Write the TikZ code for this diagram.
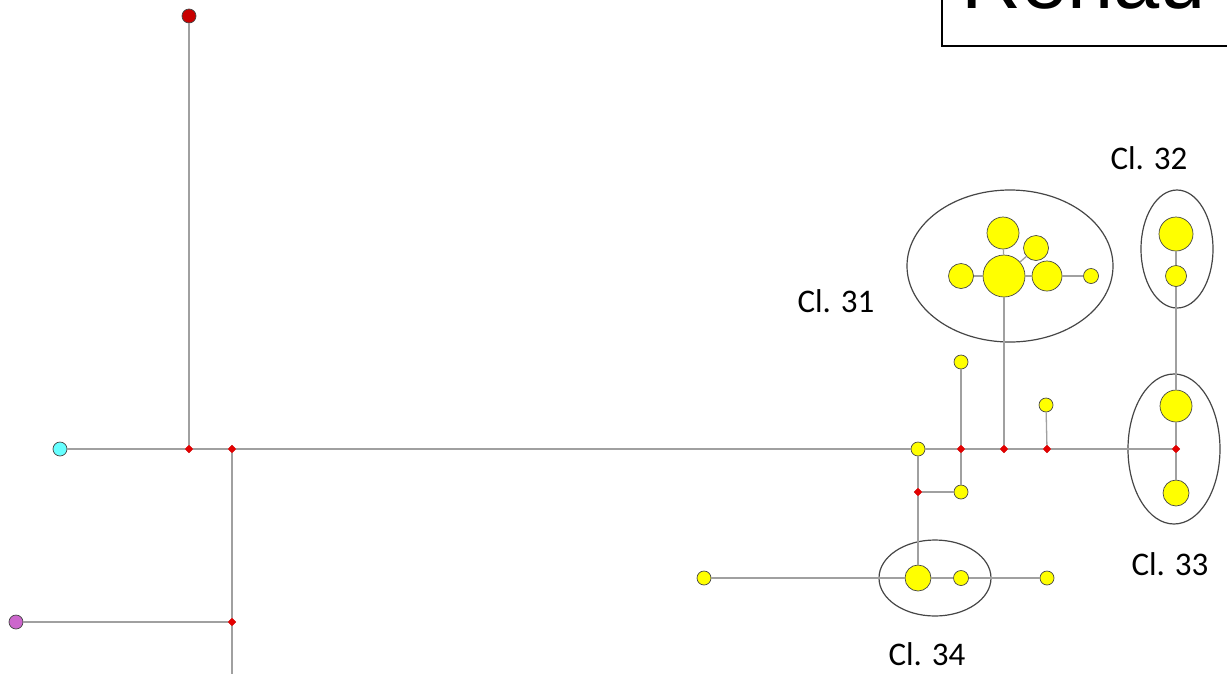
\documentclass[tikz,border=0pt]{standalone}
\usepackage{fontspec}
\setmainfont{Carlito}
\newfontfamily\titlefont{Liberation Sans}
\usepackage{tikz}
\usetikzlibrary{shapes.geometric}
\definecolor{hapyellow}{RGB}{255, 255, 0}
\definecolor{hapcyan}{RGB}{102, 255, 255}
\definecolor{happurple}{RGB}{204, 102, 204}
\definecolor{hapdarkred}{RGB}{200, 0, 0}
\definecolor{medred}{RGB}{230, 0, 0}
\definecolor{linkgray}{RGB}{160, 160, 160}
\definecolor{rimgray}{RGB}{70, 70, 70}

\tikzset{
  hap/.style={circle, draw=rimgray, line width=0.7pt, inner sep=0pt, fill=hapyellow, minimum size=#1},
  hap/.default=14pt,
  medvec/.style={diamond, draw=hapdarkred, line width=0.4pt, fill=medred, inner sep=0pt, minimum size=8pt},
  link/.style={draw=linkgray, line width=1.3pt},
  cluster/.style={draw=rimgray, line width=1.2pt},
  clabel/.style={font=\fontsize{33}{38}\selectfont, inner sep=0pt}
}

\begin{document}
\begin{tikzpicture}[x=1pt,y=-1pt]
\useasboundingbox (0,0) rectangle (1227,673);
% title box, cut at the top
\draw[line width=2pt] (942,-30) rectangle (1240,46);
\node[font=\titlefont\fontsize{83}{90}\selectfont, anchor=base west, inner sep=0pt] (title) at (961,8) {Renau};
% cluster outlines
\draw[cluster] (1010,266) ellipse [x radius=103pt, y radius=76pt];
\draw[cluster] (1177,249) ellipse [x radius=36pt, y radius=59pt];
\draw[cluster] (1174,449) ellipse [x radius=46pt, y radius=75pt];
\draw[cluster] (935,578) ellipse [x radius=56pt, y radius=38pt];
% median vectors
\foreach \name/\x/\y in {m1/189/449, m2/232/449, m3/961/449, m4/1004/449, m5/1047/449, m6/1176/449, m7/232/622, m8/918/492} {
    \node[medvec] (\name) at (\x,\y) {};
}
\coordinate (m7end) at (232,680);
% outgroup haplotypes
\node[hap, fill=hapdarkred] (hred) at (189,16) {};
\node[hap, fill=hapcyan] (hcyan) at (60,449) {};
\node[hap, fill=happurple] (hpurple) at (16,622) {};
% single haplotypes
\node[hap] (h1) at (918,449) {};
\node[hap] (h2) at (961,362) {};
\node[hap] (h3) at (961,492) {};
\node[hap] (h4) at (1046,405) {};
\node[hap] (h5) at (704,578) {};
\node[hap] (h6) at (1047,578) {};
% Cl. 31
\node[hap=42pt] (c31a) at (1004,276) {};
\node[hap=32pt] (c31b) at (1003,233) {};
\node[hap=25pt] (c31c) at (1036,248) {};
\node[hap=25pt] (c31d) at (961,276) {};
\node[hap=30pt] (c31e) at (1047,276) {};
\node[hap=15pt] (c31f) at (1091,276) {};
% Cl. 32 and Cl. 33
\node[hap=34pt] (c32a) at (1176,234) {};
\node[hap=21pt] (c32b) at (1176,276) {};
\node[hap=32pt] (c33a) at (1176,406) {};
\node[hap=26pt] (c33b) at (1176,493) {};
% Cl. 34
\node[hap=26pt] (c34a) at (918,578) {};
\node[hap=15pt] (c34b) at (961,578) {};
% links
\draw[link] (hcyan) -- (m1) -- (m2) -- (h1) -- (m3) -- (m4) -- (m5) -- (m6);
\draw[link] (hred) -- (m1);
\draw[link] (m2) -- (m7) -- (m7end);
\draw[link] (hpurple) -- (m7);
\draw[link] (h1) -- (m8) -- (c34a);
\draw[link] (m8) -- (h3);
\draw[link] (h2) -- (m3) -- (h3);
\draw[link] (m5) -- (h4);
\draw[link] (m4) -- (c31a);
\draw[link] (c31a) -- (c31b);
\draw[link] (c31a) -- (c31c);
\draw[link] (c31a) -- (c31d);
\draw[link] (c31a) -- (c31e) -- (c31f);
\draw[link] (c32a) -- (c32b) -- (c33a) -- (m6) -- (c33b);
\draw[link] (h5) -- (c34a) -- (c34b) -- (h6);
% cluster names
\node[clabel] (l31) at (836,301) {Cl. 31};
\node[clabel] (l32) at (1149,158) {Cl. 32};
\node[clabel] (l33) at (1170,564) {Cl. 33};
\node[clabel] (l34) at (927,654) {Cl. 34};
\end{tikzpicture}
\end{document}
